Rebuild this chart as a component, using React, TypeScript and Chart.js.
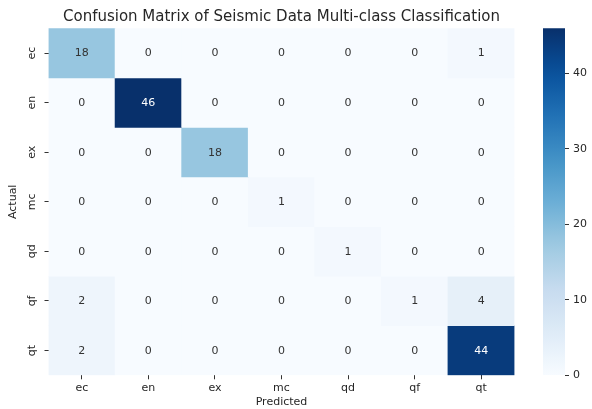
import React, { useEffect, useRef } from "react";
import { Chart, registerables } from "chart.js";

Chart.register(...registerables);

const predictedLabels = ["ec", "en", "ex", "mc", "qd", "qf", "qt"];
const actualLabels = ["ec", "en", "ex", "mc", "qd", "qf", "qt"];

const rowEc = [18, 0, 0, 0, 0, 0, 1];
const rowEn = [0, 46, 0, 0, 0, 0, 0];
const rowEx = [0, 0, 18, 0, 0, 0, 0];
const rowMc = [0, 0, 0, 1, 0, 0, 0];
const rowQd = [0, 0, 0, 0, 1, 0, 0];
const rowQf = [2, 0, 0, 0, 0, 1, 4];
const rowQt = [2, 0, 0, 0, 0, 0, 44];

const matrix = [rowEc, rowEn, rowEx, rowMc, rowQd, rowQf, rowQt];
const colorbarTicks = [0, 10, 20, 30, 40];

const vmin = 0;
const vmax = Math.max(...matrix.flat());

const FONT = "'DejaVu Sans', sans-serif";
const TEXT = "#262626";

const blues: [number, number, number][] = [
  [247, 251, 255],
  [222, 235, 247],
  [198, 219, 239],
  [158, 202, 225],
  [107, 174, 214],
  [66, 146, 198],
  [33, 113, 181],
  [8, 81, 156],
  [8, 48, 107],
];

function bluesAt(t: number): string {
  const tt = Math.min(1, Math.max(0, t)) * (blues.length - 1);
  const i = Math.min(blues.length - 2, Math.floor(tt));
  const f = tt - i;
  const a = blues[i];
  const b = blues[i + 1];
  const c = a.map((v, k) => Math.round(v + (b[k] - v) * f));
  return `rgb(${c[0]},${c[1]},${c[2]})`;
}

const annotPlugin = {
  id: "annot",
  afterDatasetsDraw(chart: any) {
    const ctx = chart.ctx;
    ctx.save();
    ctx.font = `11px ${FONT}`;
    ctx.textAlign = "center";
    ctx.textBaseline = "middle";
    chart.data.datasets.forEach((_ds: any, i: number) => {
      const meta = chart.getDatasetMeta(i);
      meta.data.forEach((el: any, j: number) => {
        const v = matrix[i][j];
        const p = el.getProps(["x", "y", "base"], true);
        const t = (v - vmin) / (vmax - vmin);
        ctx.fillStyle = t > 0.6 ? "#ffffff" : "#333333";
        ctx.fillText(String(v), p.x, (p.y + p.base) / 2 + 0.5);
      });
    });
    ctx.restore();
  },
};

export default function App() {
  const mainRef = useRef<HTMLCanvasElement>(null);
  const barRef = useRef<HTMLCanvasElement>(null);

  useEffect(() => {
    const main = new Chart(mainRef.current!, {
      type: "bar",
      data: {
        labels: predictedLabels,
        datasets: matrix.map((row, i) => ({
          label: actualLabels[i],
          data: row.map(() => 1),
          backgroundColor: row.map((v) => bluesAt((v - vmin) / (vmax - vmin))),
          borderWidth: 0,
          barPercentage: 1,
          categoryPercentage: 1,
        })),
      },
      options: {
        responsive: false,
        animation: false,
        events: [],
        layout: { padding: { left: 0, right: 77.5, top: 0, bottom: 0 } },
        plugins: {
          legend: { display: false },
          tooltip: { enabled: false },
          title: {
            display: true,
            fullSize: false,
            text: "Confusion Matrix of Seismic Data Multi-class Classification",
            color: TEXT,
            font: { family: FONT, size: 15, weight: "normal" },
            padding: { top: 8.5, bottom: 1.8 },
          },
        },
        scales: {
          x: {
            stacked: true,
            offset: true,
            border: { display: false },
            grid: {
              offset: false,
              drawOnChartArea: false,
              drawTicks: true,
              tickLength: 4,
              color: "#333",
            },
            ticks: {
              color: TEXT,
              font: { family: FONT, size: 11 },
              padding: 2,
              maxRotation: 0,
              minRotation: 0,
            },
            title: {
              display: true,
              text: "Predicted",
              color: TEXT,
              font: { family: FONT, size: 11 },
              padding: { top: 0, bottom: 0.5 },
            },
            afterFit(scale: any) {
              scale.height = 33.7;
            },
          },
          y: {
            type: "linear",
            stacked: true,
            reverse: true,
            min: 0,
            max: actualLabels.length,
            border: { display: false },
            grid: {
              drawOnChartArea: false,
              drawTicks: true,
              tickLength: 4,
              color: "#333",
            },
            afterBuildTicks(scale: any) {
              scale.ticks = actualLabels.map((_l, i) => ({ value: i + 0.5 }));
            },
            ticks: {
              color: TEXT,
              font: { family: FONT, size: 11 },
              padding: 4,
              minRotation: 90,
              maxRotation: 90,
              crossAlign: "center",
              callback: (_v: any, idx: number) => actualLabels[idx],
            },
            title: {
              display: true,
              text: "Actual",
              color: TEXT,
              font: { family: FONT, size: 11 },
              padding: { top: 6.4, bottom: 0 },
            },
            afterFit(scale: any) {
              scale.width = 48.5;
            },
          },
        },
      },
      plugins: [annotPlugin],
    } as any);

    const bar = new Chart(barRef.current!, {
      type: "bar",
      data: {
        labels: [""],
        datasets: [
          {
            data: [[vmin, vmax]],
            borderWidth: 0,
            barPercentage: 1,
            categoryPercentage: 1,
            backgroundColor: (c: any) => {
              const area = c.chart.chartArea;
              if (!area) return bluesAt(0.5);
              const g = c.chart.ctx.createLinearGradient(0, area.bottom, 0, area.top);
              for (let k = 0; k <= 20; k++) g.addColorStop(k / 20, bluesAt(k / 20));
              return g;
            },
          },
        ],
      },
      options: {
        responsive: false,
        animation: false,
        events: [],
        layout: { padding: { left: 13, right: 0, top: 28.3, bottom: 33.7 } },
        plugins: { legend: { display: false }, tooltip: { enabled: false } },
        scales: {
          x: { display: false },
          y: {
            position: "right",
            min: vmin,
            max: vmax,
            border: { display: false },
            grid: { drawOnChartArea: false, drawTicks: true, tickLength: 4, color: "#333" },
            afterBuildTicks(scale: any) {
              scale.ticks = colorbarTicks.map((v) => ({ value: v }));
            },
            ticks: {
              color: TEXT,
              font: { family: FONT, size: 11 },
              padding: 4,
            },
            afterFit(scale: any) {
              scale.width = 27;
            },
          },
        },
      },
    } as any);

    return () => {
      main.destroy();
      bar.destroy();
    };
  }, []);

  return (
    <div style={{ position: "absolute", left: 0, top: 0, width: 592, height: 409, background: "#fff" }}>
      <canvas ref={mainRef} width={592} height={409} style={{ position: "absolute", left: 0, top: 0 }} />
      <canvas ref={barRef} width={62} height={409} style={{ position: "absolute", left: 530, top: 0 }} />
    </div>
  );
}
